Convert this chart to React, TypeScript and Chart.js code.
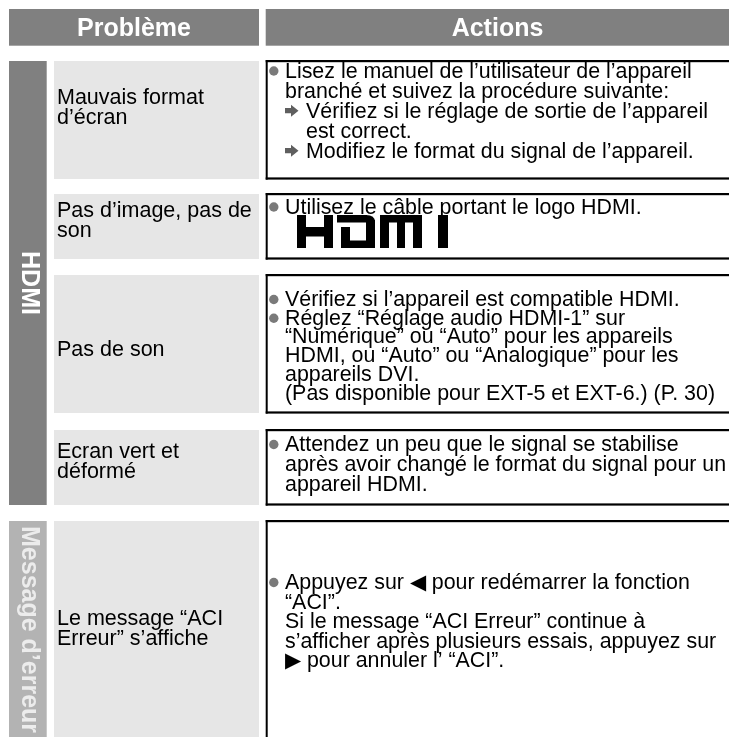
import React, { useEffect, useRef } from "react";
import { Chart, registerables } from "chart.js";

Chart.register(...registerables);

// ---------- data ----------
const HEADERS = ["Problème", "Actions"];
const GROUPS = ["HDMI", "Message d’erreur"];
const PROBLEMS = [
  ["Mauvais format", "d’écran"],
  ["Pas d’image, pas de", "son"],
  ["Pas de son"],
  ["Ecran vert et", "déformé"],
  ["Le message “ACI", "Erreur” s’affiche"],
];
// kind: b = bullet, c = continuation, a = arrow, ac = arrow continuation, logo = HDMI logo
const ACTIONS_ROW1: [string, string][] = [
  ["b", "Lisez le manuel de l’utilisateur de l’appareil"],
  ["c", "branché et suivez la procédure suivante:"],
  ["a", "Vérifiez si le réglage de sortie de l’appareil"],
  ["ac", "est correct."],
  ["a", "Modifiez le format du signal de l’appareil."],
];
const ACTIONS_ROW2: [string, string][] = [
  ["b", "Utilisez le câble portant le logo HDMI."],
  ["logo", "HDMI"],
];
const ACTIONS_ROW3: [string, string][] = [
  ["b", "Vérifiez si l’appareil est compatible HDMI."],
  ["b", "Réglez “Réglage audio HDMI-1” sur"],
  ["c", "“Numérique” ou “Auto” pour les appareils"],
  ["c", "HDMI, ou “Auto” ou “Analogique” pour les"],
  ["c", "appareils DVI."],
  ["c", "(Pas disponible pour EXT-5 et EXT-6.) (P. 30)"],
];
const ACTIONS_ROW4: [string, string][] = [
  ["b", "Attendez un peu que le signal se stabilise"],
  ["c", "après avoir changé le format du signal pour un"],
  ["c", "appareil HDMI."],
];
const ACTIONS_ROW5: [string, string][] = [
  ["b", "Appuyez sur ◀ pour redémarrer la fonction"],
  ["c", "“ACI”."],
  ["c", "Si le message “ACI Erreur” continue à"],
  ["c", "s’afficher après plusieurs essais, appuyez sur"],
  ["c", "▶ pour annuler l’ “ACI”."],
];
const ACTIONS = [ACTIONS_ROW1, ACTIONS_ROW2, ACTIONS_ROW3, ACTIONS_ROW4, ACTIONS_ROW5];

// ---------- layout (table units, mapped through the chart scales) ----------
const W = 729;
const H = 737;
const LAYOUT = {
  header: { top: 9, bottom: 45.7 },
  bandX: [9, 46.7],
  probX: [54, 259],
  actX: 266,
  rows: [
    { top: 61, bottom: 179, act: 77.5, prob: 104, lh: 20 },
    { top: 194, bottom: 259, act: 213.5, prob: 216.5, lh: 20 },
    { top: 275, bottom: 413, act: 306, prob: 356, lh: 18.7 },
    { top: 430, bottom: 505, act: 451, prob: 458, lh: 20 },
    { top: 521, bottom: 760, act: 589, prob: 624.5, lh: 19.5 },
  ],
  groupSpan: [
    { top: 61, bottom: 505, align: "center", start: 0 },
    { top: 521, bottom: 760, align: "start", start: 526 },
  ],
};
const FONT = "'Liberation Sans', Arial, Helvetica, sans-serif";
const COLORS = {
  header: "#808080",
  band: ["#808080", "#b3b3b3"],
  bandText: ["#ffffff", "#ececec"],
  cell: "#e6e6e6",
  bullet: "#7a7a7a",
  arrow: "#5f5f5f",
  text: "#000000",
};

function drawLogo(
  ctx: CanvasRenderingContext2D,
  X: (v: number) => number,
  Y: (v: number) => number,
  x0: number,
  y0: number
) {
  const h = 33;
  const t = 7.5;
  const r = (a: number, b: number, c: number, d: number) => {
    ctx.fillRect(X(x0 + a), Y(y0 + b), X(x0 + c) - X(x0 + a), Y(y0 + d) - Y(y0 + b));
  };
  ctx.fillStyle = "#000";
  // H
  r(0, 0, 9, h);
  r(27, 0, 36, h);
  r(0, 12, 36, 21.5);
  // D
  r(40, 0, 70, t);
  r(69, 5, 78, h);
  r(44, h - t, 78, h);
  r(44, 12, 53, h);
  ctx.beginPath();
  ctx.moveTo(X(x0 + 69), Y(y0));
  ctx.quadraticCurveTo(X(x0 + 78), Y(y0), X(x0 + 78), Y(y0 + 7));
  ctx.lineTo(X(x0 + 69), Y(y0 + 7));
  ctx.closePath();
  ctx.fill();
  // M
  r(83, 0, 125, t);
  r(83, 0, 92, h);
  r(100, 0, 108, h);
  r(116, 0, 125, h);
  // I
  r(141, 0, 151, h);
}

const tablePlugin = {
  id: "troubleTable",
  afterDraw(chart: any) {
    const ctx: CanvasRenderingContext2D = chart.ctx;
    const xs = chart.scales.x;
    const ys = chart.scales.y;
    const X = (v: number) => xs.getPixelForValue(v);
    const Y = (v: number) => ys.getPixelForValue(v);
    const rect = (x0: number, y0: number, x1: number, y1: number, c: string) => {
      ctx.fillStyle = c;
      ctx.fillRect(X(x0), Y(y0), X(x1) - X(x0), Y(y1) - Y(y0));
    };
    ctx.save();
    ctx.fillStyle = "#ffffff";
    ctx.fillRect(0, 0, chart.width, chart.height);

    // header
    const hh = LAYOUT.header;
    rect(9, hh.top, LAYOUT.probX[1], hh.bottom, COLORS.header);
    rect(LAYOUT.actX - 0.3, hh.top, W + 20, hh.bottom, COLORS.header);
    ctx.fillStyle = "#ffffff";
    ctx.font = `bold 25px ${FONT}`;
    ctx.textAlign = "center";
    ctx.textBaseline = "alphabetic";
    const hb = (hh.top + hh.bottom) / 2 + 9;
    ctx.fillText(HEADERS[0], X((9 + LAYOUT.probX[1]) / 2), Y(hb));
    ctx.fillText(HEADERS[1], X((LAYOUT.actX + W) / 2), Y(hb));

    // group bands
    GROUPS.forEach((g, gi) => {
      const s = LAYOUT.groupSpan[gi];
      rect(LAYOUT.bandX[0], s.top, LAYOUT.bandX[1], s.bottom, COLORS.band[gi]);
      ctx.save();
      ctx.fillStyle = COLORS.bandText[gi];
      ctx.font = `bold 25px ${FONT}`;
      ctx.textBaseline = "alphabetic";
      if (s.align === "center") {
        ctx.translate(X(30.5), Y((s.top + s.bottom) / 2));
        ctx.rotate(Math.PI / 2);
        ctx.textAlign = "center";
      } else {
        ctx.translate(X(30.5), Y(s.start));
        ctx.rotate(Math.PI / 2);
        ctx.textAlign = "left";
      }
      ctx.fillText(g, 0, 9);
      ctx.restore();
    });

    // rows
    LAYOUT.rows.forEach((r, ri) => {
      rect(LAYOUT.probX[0], r.top, LAYOUT.probX[1], r.bottom, COLORS.cell);
      const ax = LAYOUT.actX;
      rect(ax - 0.3, r.top - 1, W + 20, r.top + 1.2, "#000");
      rect(ax - 0.3, r.bottom - 1.6, W + 20, r.bottom + 0.6, "#000");
      rect(ax - 0.3, r.top - 1, ax + 1.7, r.bottom + 0.6, "#000");

      ctx.fillStyle = COLORS.text;
      ctx.font = `21.5px ${FONT}`;
      ctx.textAlign = "left";
      ctx.textBaseline = "alphabetic";
      PROBLEMS[ri].forEach((t, li) => {
        ctx.fillText(t, X(57), Y(r.prob + li * 20));
      });

      ACTIONS[ri].forEach(([kind, t], li) => {
        const base = r.act + li * r.lh;
        if (kind === "logo") {
          drawLogo(ctx, X, Y, 297, base - 18.5);
          return;
        }
        if (kind === "b") {
          ctx.fillStyle = COLORS.bullet;
          ctx.beginPath();
          ctx.arc(X(273.8), Y(base - 6.5), 4.7, 0, Math.PI * 2);
          ctx.fill();
        }
        if (kind === "a") {
          const cy = base - 6.8;
          ctx.fillStyle = COLORS.arrow;
          ctx.beginPath();
          ctx.moveTo(X(285), Y(cy - 2.6));
          ctx.lineTo(X(291), Y(cy - 2.6));
          ctx.lineTo(X(291), Y(cy - 6));
          ctx.lineTo(X(298.5), Y(cy));
          ctx.lineTo(X(291), Y(cy + 6));
          ctx.lineTo(X(291), Y(cy + 2.6));
          ctx.lineTo(X(285), Y(cy + 2.6));
          ctx.closePath();
          ctx.fill();
        }
        const tx = kind === "a" || kind === "ac" ? 306 : 285;
        ctx.fillStyle = COLORS.text;
        ctx.font = `21.4px ${FONT}`;
        ctx.fillText(t, X(tx), Y(base));
      });
    });
    ctx.restore();
  },
};

export default function App() {
  const ref = useRef<HTMLCanvasElement | null>(null);
  useEffect(() => {
    document.body.style.margin = "0";
    document.body.style.overflow = "hidden";
    const canvas = ref.current;
    if (!canvas) return;
    const chart = new Chart(canvas, {
      type: "scatter",
      data: { datasets: [{ data: [], pointRadius: 0 }] },
      options: {
        animation: false,
        responsive: false,
        devicePixelRatio: 1,
        events: [],
        layout: { padding: 0 },
        plugins: { legend: { display: false }, tooltip: { enabled: false } },
        scales: {
          x: { type: "linear", min: 0, max: W, display: false },
          y: { type: "linear", min: 0, max: H, reverse: true, display: false },
        },
      },
      plugins: [tablePlugin],
    } as any);
    return () => chart.destroy();
  }, []);
  return (
    <div style={{ width: W, height: H, background: "#fff" }}>
      <canvas ref={ref} width={W} height={H} style={{ display: "block" }} />
    </div>
  );
}
